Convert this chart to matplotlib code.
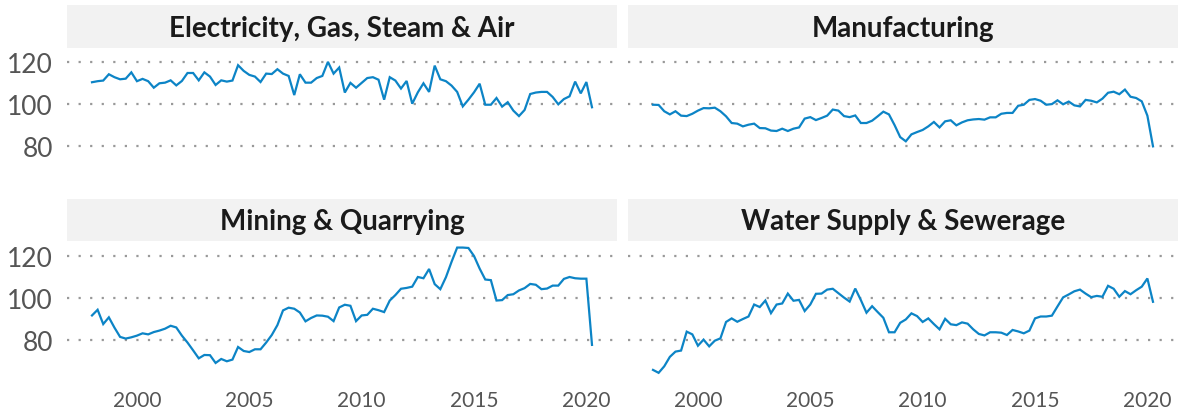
import numpy as np
import matplotlib
matplotlib.use("Agg")
from matplotlib import pyplot as plt

# quarterly index values, 1998 Q1 .. 2020 Q2
start_year = 1998
electricity = [110.5, 111.0, 111.3, 114.3, 112.9, 111.9, 112.2, 115.2, 111.0, 112.1,
               111.0, 107.9, 110.0, 110.3, 111.4, 109.0, 111.1, 114.9, 114.9, 111.4,
               115.2, 113.2, 109.2, 111.4, 110.8, 111.3, 118.6, 115.9, 114.0, 113.2,
               110.6, 114.6, 114.4, 116.7, 114.6, 113.5, 104.4, 114.3, 110.3, 110.3,
               112.5, 113.5, 120.2, 114.6, 117.5, 105.6, 110.2, 107.9, 110.2, 112.5,
               112.9, 111.7, 102.2, 112.9, 111.3, 107.5, 111.1, 100.3, 105.7, 110.0,
               105.9, 118.4, 111.9, 111.0, 108.9, 105.9, 99.0, 102.2, 105.7, 109.8,
               99.8, 99.8, 103.0, 98.9, 101.0, 97.0, 94.4, 97.3, 104.9, 105.6,
               105.9, 105.9, 103.5, 100.0, 102.5, 103.8, 110.8, 105.2, 110.6, 98.6]
manufacturing = [99.8, 99.7, 96.7, 95.2, 96.7, 94.6, 94.4, 95.5, 97.0, 98.2,
                 98.1, 98.4, 96.7, 94.3, 91.1, 90.8, 89.5, 90.3, 90.8, 88.7,
                 88.6, 87.5, 87.3, 88.4, 87.3, 88.4, 89.0, 93.2, 93.9, 92.5,
                 93.5, 94.6, 97.5, 97.0, 94.4, 93.9, 94.7, 91.1, 91.1, 92.2,
                 94.3, 96.5, 95.2, 90.1, 84.4, 82.4, 85.7, 86.8, 87.8, 89.5,
                 91.6, 89.0, 91.9, 92.4, 90.0, 91.4, 92.4, 92.8, 93.0, 92.7,
                 93.8, 93.8, 95.5, 95.9, 95.9, 99.3, 99.8, 102.1, 102.5, 101.7,
                 99.8, 100.1, 101.9, 100.0, 101.3, 99.5, 99.0, 102.1, 101.7, 100.9,
                 102.7, 105.5, 106.0, 104.8, 107.0, 103.6, 103.0, 101.4, 94.6, 80.0]
mining = [91.7, 94.4, 87.6, 90.8, 85.9, 81.5, 80.7, 81.3, 82.1, 83.2,
          82.7, 83.8, 84.5, 85.4, 86.8, 86.0, 82.1, 78.8, 75.1, 71.3,
          72.9, 72.8, 69.1, 71.0, 69.9, 70.7, 76.7, 74.8, 74.3, 75.6,
          75.6, 78.8, 82.4, 87.1, 94.1, 95.4, 94.9, 93.1, 88.9, 90.5,
          91.7, 91.6, 91.1, 89.0, 95.5, 96.8, 96.3, 89.0, 91.7, 92.0,
          94.9, 94.2, 93.3, 98.8, 101.4, 104.4, 104.8, 105.4, 110.0, 109.4,
          113.8, 106.6, 104.2, 109.9, 117.2, 124.0, 124.0, 123.8, 120.0, 114.0,
          108.8, 108.5, 98.8, 99.0, 101.4, 101.8, 103.6, 104.7, 106.7, 106.3,
          104.2, 104.5, 105.9, 105.9, 109.1, 110.0, 109.4, 109.2, 109.2, 77.7]
water = [65.8, 64.4, 67.5, 72.0, 74.5, 75.0, 84.0, 82.7, 77.3, 80.2,
         77.0, 79.7, 80.8, 88.6, 90.3, 88.7, 90.0, 91.2, 96.9, 95.7,
         98.8, 92.8, 96.9, 97.4, 102.1, 98.7, 99.1, 93.8, 96.9, 102.0,
         102.1, 104.0, 104.4, 102.3, 100.2, 98.3, 104.5, 99.0, 93.0, 96.1,
         93.3, 90.6, 83.7, 83.7, 88.2, 89.8, 92.7, 91.4, 88.6, 90.3,
         87.6, 85.1, 90.1, 87.5, 87.1, 88.4, 87.8, 85.1, 82.9, 82.2,
         83.7, 83.7, 83.5, 82.4, 84.8, 84.1, 83.2, 84.5, 90.3, 91.2,
         91.2, 91.6, 96.0, 100.3, 101.7, 103.2, 104.0, 102.1, 100.4, 101.0,
         100.6, 105.8, 104.4, 100.6, 103.3, 101.8, 103.7, 105.4, 109.3, 98.2]

titles = ["Electricity, Gas, Steam & Air", "Manufacturing",
          "Mining & Quarrying", "Water Supply & Sewerage"]
series = [electricity, manufacturing, mining, water]
y_ticks = [80, 100, 120]
x_ticks = [2000, 2005, 2010, 2015, 2020]

plt.rcParams["font.family"] = ["Lato", "DejaVu Sans"]

W, H = 1184, 414
fig = plt.figure(figsize=(W / 100, H / 100), dpi=100)

all_vals = np.concatenate([np.array(s) for s in series])
ypad = (all_vals.max() - all_vals.min()) * 0.05
ylim = (all_vals.min() - ypad, all_vals.max() + ypad)

# panel boxes in pixels: left, top, width, height
panel_x = [67, 628]
panel_top = [48.6, 242.3]
panel_w = 550
panel_h = 137.8
strip_h = 42.6

line_color = "#0c84c6"
grid_color = "#999999"
text_gray = "#555555"

for k, (title, vals) in enumerate(zip(titles, series)):
    row, col = divmod(k, 2)
    x0 = panel_x[col]
    top = panel_top[row]
    ax = fig.add_axes([x0 / W, 1 - (top + panel_h) / H, panel_w / W, panel_h / H])
    t = start_year + 0.25 * np.arange(len(vals))
    xpad = (t[-1] - t[0]) * 0.05
    ax.plot(t, vals, color=line_color, lw=1.6, solid_joinstyle="miter", zorder=3)
    ax.set_xlim(t[0] - xpad, t[-1] + xpad)
    ax.set_ylim(*ylim)
    ax.set_yticks(y_ticks)
    ax.set_xticks(x_ticks)
    for yv in y_ticks:
        ax.axhline(yv, color=grid_color, lw=1.6, linestyle=(0, (1, 4.2)), zorder=1)
    for s in ax.spines.values():
        s.set_visible(False)
    ax.tick_params(length=0, colors=text_gray)
    ax.tick_params(axis="y", labelsize=19, pad=10)
    ax.tick_params(axis="x", labelsize=15, pad=8)
    if col == 1:
        ax.set_yticklabels([])
    if row == 0:
        ax.set_xticklabels([])

    sax = fig.add_axes([x0 / W, 1 - top / H, panel_w / W, strip_h / H])
    sax.set_facecolor("#f2f2f2")
    sax.set_xticks([])
    sax.set_yticks([])
    for s in sax.spines.values():
        s.set_visible(False)
    sax.text(0.5, 0.47, title, ha="center", va="center", fontsize=20,
             fontweight="bold", color="#1a1a1a", transform=sax.transAxes)

fig.savefig("out.png", dpi=100)
